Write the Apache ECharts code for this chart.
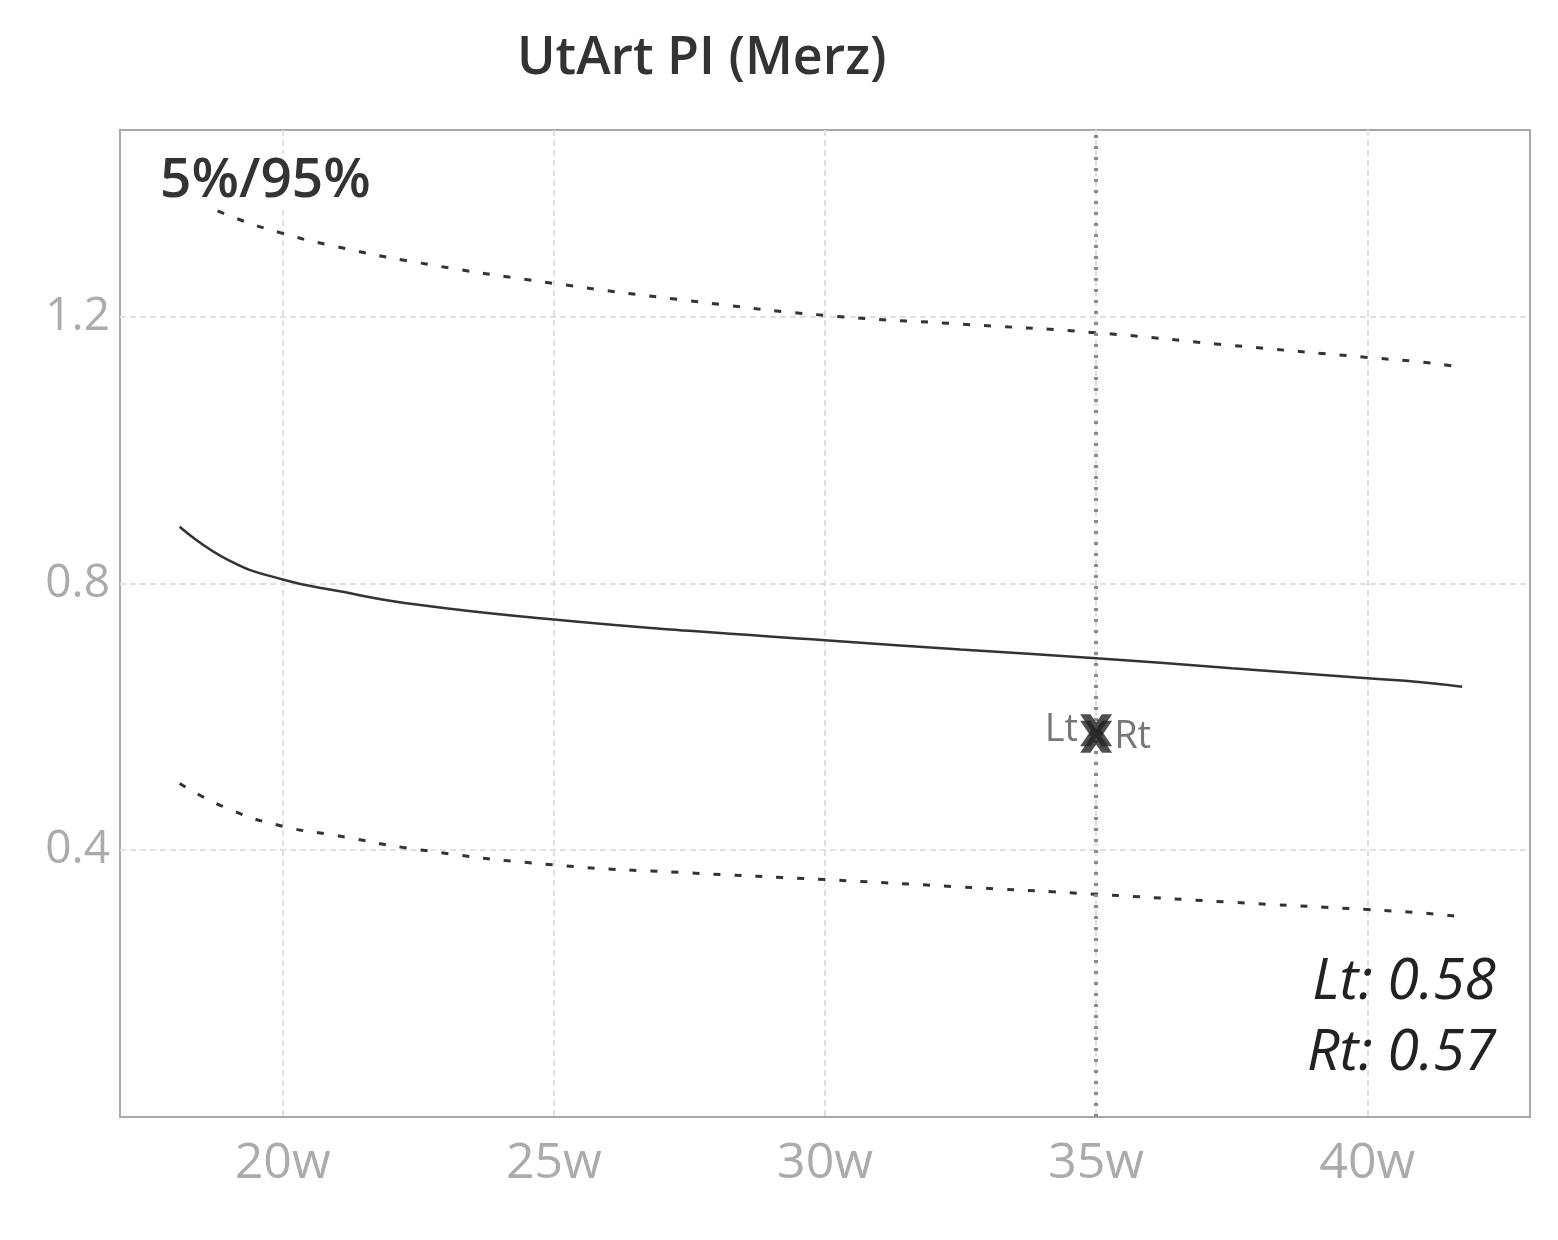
<!DOCTYPE html>
<html>
<head>
<meta charset="utf-8">
<script src="https://cdn.jsdelivr.net/npm/echarts@6/dist/echarts.min.js"></script>
<style>
  html, body { margin: 0; padding: 0; background: #fff; }
  #chart { width: 1558px; height: 1240px; }
</style>
</head>
<body>
<div id="chart"></div>
<script>
// ---- data ----
const titleText = 'UtArt PI (Merz)';
const bandLabel = '5%/95%';
const weeks = [18.1, 19, 20, 21, 22.5, 25, 27.5, 30, 32.5, 35, 37.5, 40, 41, 41.75];
const p95 = [1.385, 1.352, 1.325, 1.305, 1.281, 1.250, 1.224, 1.202, 1.189, 1.176, 1.157, 1.139, 1.132, 1.124];
const p50 = [0.885, 0.835, 0.806, 0.789, 0.768, 0.746, 0.729, 0.715, 0.701, 0.688, 0.673, 0.658, 0.652, 0.645];
const p5  = [0.500, 0.462, 0.436, 0.422, 0.401, 0.378, 0.366, 0.356, 0.345, 0.334, 0.322, 0.311, 0.306, 0.300];
const xTicks = [20, 25, 30, 35, 40];
const yTicks = [0.4, 0.8, 1.2];
const patientWeek = 35;
const sideNames = ['Lt', 'Rt'];
const sideValues = [0.58, 0.57];

const pairs = (xs, ys) => xs.map((x, i) => [x, ys[i]]);
const xMark = 'path://M0,0 L3.2,0 L5,2.6 L6.8,0 L10,0 L6.6,5 L10,10 L6.8,10 L5,7.4 L3.2,10 L0,10 L3.4,5 Z';

const chart = echarts.init(document.getElementById('chart'));
const dashStyle = { color: '#333', width: 3, type: [7, 14] };

chart.setOption({
  backgroundColor: '#fff',
  animation: false,
  title: {
    text: titleText,
    left: 512, top: 28,
    textStyle: { fontFamily: 'Open Sans', fontSize: 52, fontWeight: 600, color: '#333' }
  },
  grid: {
    left: 120, right: 28, top: 130, bottom: 123,
    show: true, borderColor: '#a8a8a8', borderWidth: 2, backgroundColor: 'transparent'
  },
  xAxis: {
    type: 'value', min: 17, max: 43,
    axisLine: { show: false },
    axisTick: { show: false, customValues: xTicks },
    axisLabel: {
      customValues: xTicks, formatter: v => v + 'w', margin: 22,
      fontFamily: 'Open Sans', fontSize: 50, color: '#ababab'
    },
    splitLine: { show: true, lineStyle: { color: '#e0e0e0', width: 2, type: [6, 4] } }
  },
  yAxis: {
    type: 'value', min: 0, max: 1.48,
    axisLine: { show: false },
    axisTick: { show: false, customValues: yTicks },
    axisLabel: {
      customValues: yTicks, formatter: v => v.toFixed(1), margin: 10,
      fontFamily: 'Open Sans', fontSize: 46, color: '#ababab'
    },
    splitLine: { show: true, lineStyle: { color: '#e0e0e0', width: 2, type: [6, 4] } }
  },
  series: [
    {
      name: '95%', type: 'line', smooth: true, symbol: 'none',
      data: pairs(weeks, p95), lineStyle: dashStyle, z: 3
    },
    {
      name: '50%', type: 'line', smooth: true, symbol: 'none',
      data: pairs(weeks, p50), lineStyle: { color: '#333', width: 2.5 }, z: 3,
      markLine: {
        silent: true, symbol: 'none', label: { show: false },
        lineStyle: { color: '#8c8c8c', width: 4, type: [3, 8] },
        data: [{ xAxis: patientWeek }]
      }
    },
    {
      name: '5%', type: 'line', smooth: true, symbol: 'none',
      data: pairs(weeks, p5), lineStyle: dashStyle, z: 3
    },
    {
      name: 'patient', type: 'scatter', symbol: xMark, symbolSize: 32, z: 5,
      itemStyle: { color: '#222' },
      data: sideNames.map((n, i) => ({
        name: n, value: [patientWeek, sideValues[i]],
        label: {
          show: true, formatter: n, position: i === 0 ? 'left' : 'right', distance: 2,
          fontFamily: 'Open Sans', fontSize: 38, color: '#555'
        }
      }))
    }
  ],
  graphic: [
    {
      type: 'text', left: 158, top: 154, z: 100,
      style: {
        text: bandLabel, fontFamily: 'Open Sans', fontSize: 55, fontWeight: 600,
        fill: '#333', backgroundColor: '#fff', padding: [0, 2]
      }
    },
    {
      type: 'text', right: 62, top: 954, z: 100,
      style: { text: sideNames[0] + ': ' + sideValues[0].toFixed(2), fontFamily: 'Open Sans',
        fontSize: 57, fontStyle: 'italic', fill: '#222' }
    },
    {
      type: 'text', right: 62, top: 1025, z: 100,
      style: { text: sideNames[1] + ': ' + sideValues[1].toFixed(2), fontFamily: 'Open Sans',
        fontSize: 57, fontStyle: 'italic', fill: '#222' }
    }
  ]
});
</script>
</body>
</html>
